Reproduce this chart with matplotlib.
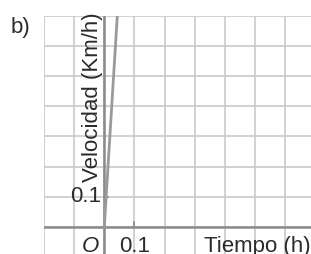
import numpy as np
import matplotlib.pyplot as plt

plt.rcParams['font.family'] = ['Liberation Sans', 'DejaVu Sans']

# data
t = [0.0, 0.05]        # tiempo (h)
v = [0.0, 0.81]        # velocidad (Km/h)
grid_x = np.arange(-0.2, 0.75, 0.1)
grid_y = np.arange(-0.1, 0.75, 0.1)

W, H = 311, 254
fig = plt.figure(figsize=(W / 100, H / 100), dpi=100)

# axes placed so one grid cell is ~30 px
x0, x1 = 43.5, 311
y0, y1 = 0, 238.5
ax = fig.add_axes([x0 / W, y0 / H, (x1 - x0) / W, (y1 - y0) / H])
cell = 30.2
ax.set_xlim(-0.2 - 0.5 / cell * 0.1, -0.2 + (x1 - x0) / cell * 0.1)
ax.set_ylim(-(254 - 227) / cell * 0.1, -(254 - 227) / cell * 0.1 + (y1 - y0) / cell * 0.1)

for s in ax.spines.values():
    s.set_visible(False)
ax.set_xticks([])
ax.set_yticks([])

for gx in grid_x:
    ax.axvline(gx, color='#c9c9c9', lw=1.2, zorder=1)
for gy in grid_y:
    ax.axhline(gy, color='#c9c9c9', lw=1.2, zorder=1)

ax.axhline(0, color='#8a8a8a', lw=1.8, zorder=2)
ax.axvline(0, color='#8a8a8a', lw=1.8, zorder=2)

# small ticks at 0.1
ax.plot([0.1, 0.1], [0, 0.017], color='#8a8a8a', lw=1.2, zorder=2)
ax.plot([0, 0.013], [0.1, 0.1], color='#8a8a8a', lw=1.2, zorder=2)

ax.plot(t, v, color='#9a9a9a', lw=2, zorder=3, clip_on=True)

tc = '#2b2b2b'
fs = 16
ax.text(-0.046, -0.063, 'O', style='italic', fontsize=fs, color=tc, ha='center', va='center')
ax.text(0.1, -0.063, '0.1', fontsize=fs, color=tc, ha='center', va='center')
ax.text(0.683, -0.063, 'Tiempo (h)', fontsize=fs, color=tc, ha='right', va='center')
ax.text(-0.012, 0.1, '0.1', fontsize=fs, color=tc, ha='right', va='center')
ax.text(-0.038, 0.43, 'Velocidad (Km/h)', fontsize=fs, color=tc, rotation=90,
        ha='center', va='center')

fig.text(20 / W, 1 - 28 / H, 'b)', fontsize=fs, color=tc, ha='center', va='center')

fig.savefig('out.png', dpi=100)
